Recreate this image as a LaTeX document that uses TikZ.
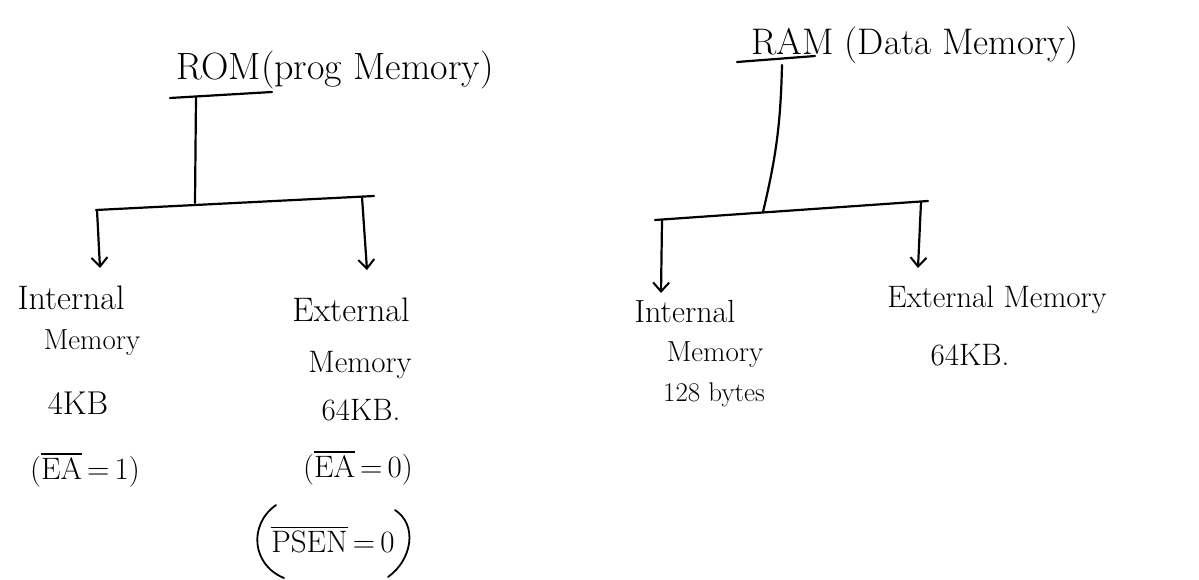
\documentclass[tikz,border=0pt]{standalone}
\usetikzlibrary{arrows.meta}
\newcommand\ovl[1]{\vbox{\hrule height 1.6pt\kern 2.5pt\hbox{#1}}}
\begin{document}
\begin{tikzpicture}[x=1pt,y=-1pt,
  line width=2.2pt, line cap=round,
  lbl/.style={font=\fontsize{31}{36}\selectfont, inner sep=0pt},
  ttl/.style={font=\fontsize{38}{44}\selectfont, inner sep=0pt},
  arr/.style={-{Straight Barb[length=9pt,width=16pt,line width=2pt]}},
]
\useasboundingbox (0,0) rectangle (1199,580);

% ---------- ROM tree ----------
\node[ttl] (rom) at (335,70) {ROM(prog Memory)};
\coordinate (u1a) at (170,98);
\coordinate (u1b) at (272,92);
\draw (u1a) -- (u1b);
\coordinate (v1t) at (196,97);
\coordinate (v1b) at (195,203);
\draw (v1t) -- (v1b);
\coordinate (b1l) at (96,210);
\coordinate (b1r) at (374,196);
\draw (b1l) -- (b1r);
\coordinate (a1ls) at (97,210);
\coordinate (a1le) at (100,268);
\draw[arr] (a1ls) -- (a1le);
\coordinate (a1rs) at (362,197);
\coordinate (a1re) at (367,270);
\draw[arr] (a1rs) -- (a1re);

\node[lbl,font=\fontsize{34}{40}\selectfont] (int1) at (71,298) {Internal};
\node[lbl,font=\fontsize{29}{34}\selectfont] (int1m) at (92,343) {Memory};
\node[lbl,font=\fontsize{33}{38}\selectfont] (int1s) at (78,403) {4KB};
\node[lbl] (int1e) at (85,470) {(\ovl{EA}\,=\,1)};

\node[lbl,font=\fontsize{34}{40}\selectfont] (ext1) at (351,310) {External};
\node[lbl] (ext1m) at (360,365) {Memory};
\node[lbl] (ext1s) at (361,410) {64KB.};
\node[lbl] (ext1e) at (358,468) {(\ovl{EA}\,=\,0)};
\node[lbl] (ext1p) at (333,540) {\ovl{PSEN}\,=\,0};
\coordinate (p1a) at (276,505);
\coordinate (p1b) at (284,578);
\coordinate (p2a) at (395,510);
\coordinate (p2b) at (388,577);
\draw[line width=1.8pt] (p1a) .. controls (248,525) and (252,565) .. (p1b);
\draw[line width=1.8pt] (p2a) .. controls (418,525) and (412,560) .. (p2b);

% ---------- RAM tree ----------
\node[ttl,font=\fontsize{37}{42}\selectfont] (ram) at (915,45) {RAM (Data Memory)};
\coordinate (u2a) at (737,62);
\coordinate (u2b) at (815,56);
\draw (u2a) -- (u2b);
\coordinate (v2t) at (782,65);
\coordinate (v2b) at (763,212);
\draw (v2t) to[bend left=6] (v2b);
\coordinate (b2l) at (655,220);
\coordinate (b2r) at (928,201);
\draw (b2l) -- (b2r);
\coordinate (a2ls) at (662,221);
\coordinate (a2le) at (661,293);
\draw[arr] (a2ls) -- (a2le);
\coordinate (a2rs) at (921,202);
\coordinate (a2re) at (918,268);
\draw[arr] (a2rs) -- (a2re);

\node[lbl,font=\fontsize{32}{38}\selectfont] (int2) at (685,312) {Internal};
\node[lbl,font=\fontsize{29}{34}\selectfont] (int2m) at (715,355) {Memory};
\node[lbl,font=\fontsize{27}{32}\selectfont] (int2s) at (714,395) {128 bytes};

\node[lbl] (ext2) at (997,300) {External Memory};
\node[lbl] (ext2s) at (970,355) {64KB.};
\end{tikzpicture}
\end{document}
